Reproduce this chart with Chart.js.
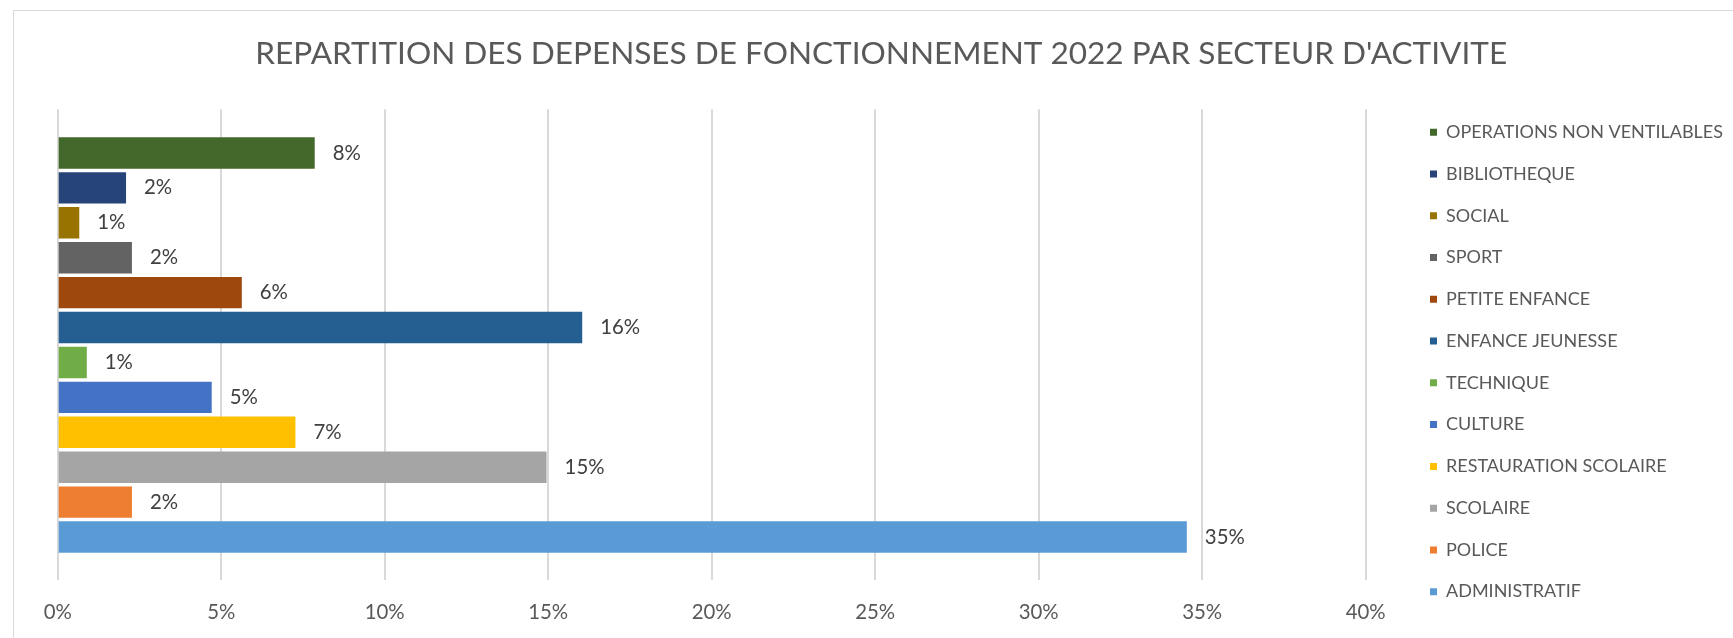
<!DOCTYPE html>
<html>
<head>
<meta charset="utf-8">
<script src="https://cdn.jsdelivr.net/npm/chart.js@4.4.1/dist/chart.umd.min.js"></script>
<style>
  html, body { margin: 0; padding: 0; background: #ffffff; overflow: hidden; }
  #frame { position: absolute; left: 13px; top: 10px; width: 1800px; height: 700px; border: 1px solid #d9d9d9; }
  #wrap { position: absolute; left: 0; top: 0; width: 1733px; height: 638px; }
</style>
</head>
<body>
<div id="frame"></div>
<div id="wrap"><canvas id="c" width="1733" height="638"></canvas></div>
<script>
// ---------- DATA ----------
const chartTitle = "REPARTITION DES DEPENSES DE FONCTIONNEMENT 2022 PAR SECTEUR D'ACTIVITE";
const categories = [
  "OPERATIONS NON VENTILABLES",
  "BIBLIOTHEQUE",
  "SOCIAL",
  "SPORT",
  "PETITE ENFANCE",
  "ENFANCE JEUNESSE",
  "TECHNIQUE",
  "CULTURE",
  "RESTAURATION SCOLAIRE",
  "SCOLAIRE",
  "POLICE",
  "ADMINISTRATIF"
];
const values = [7.86, 2.09, 0.66, 2.27, 5.63, 16.04, 0.89, 4.71, 7.27, 14.95, 2.27, 34.53];
const colors = [
  "#43682B", "#264478", "#997300", "#636363", "#9E480E", "#255E91",
  "#70AD47", "#4472C4", "#FFC000", "#A5A5A5", "#ED7D31", "#5B9BD5"
];
const xTickValues = [0, 5, 10, 15, 20, 25, 30, 35, 40];
const xTickLabels = ["0%", "5%", "10%", "15%", "20%", "25%", "30%", "35%", "40%"];

// ---------- LAYOUT / STYLE ----------
const FONT = "Lato";
const W = 1733, H = 638;
const mctx = document.createElement("canvas").getContext("2d");
function fitSize(text, target) {
  mctx.font = "100px " + FONT;
  return 100 * target / mctx.measureText(text).width;
}
const titleSize = fitSize(chartTitle, 1252);
const legendSize = fitSize("OPERATIONS NON VENTILABLES", 277);
const tickSize = fitSize("40%", 40);

const plotLeft = 57.7, plotRight = 1365.7;
const plotTop = 135.5, plotBottom = 554.5;
const gridTop = 109.3, gridBottom = 580;
const titleCenterX = 881.2, titleCenterY = 54.2;
const legendPitch = 41.76, legendBoxX = 1430, legendFirstY = 132.3;

const lp = legendPitch - legendSize;
mctx.font = legendSize + "px " + FONT;
const maxText = Math.max(...categories.map(c => mctx.measureText(c).width));
const legendW = lp + 7 + legendSize / 2 + maxText + 10;
const legendLeft = legendBoxX - lp;
const padR = W - legendLeft - legendW;
const padL = 2 * titleCenterX - W + padR;
const yAxisW = plotLeft - padL;
const rightGap = legendLeft - plotRight;
const colHeight = categories.length * legendPitch;
const padB = H - (legendFirstY - legendSize / 2 + colHeight);
const xAxisH = H - padB - plotBottom;
const titleLH = titleSize * 1.2;
const tickLH = tickSize * 1.2;
const tickPad = (612.7 - plotBottom) - (gridBottom - plotBottom) - tickLH / 2;

const datasets = categories.map((name, i) => ({
  label: name,
  data: categories.map((_, j) => (j === i ? values[i] : null)),
  backgroundColor: colors[i],
  borderWidth: 0,
  categoryPercentage: 1,
  barPercentage: 0.9,
  skipNull: true
}));

const dataLabels = {
  id: "dataLabels",
  afterDatasetsDraw(chart) {
    const ctx = chart.ctx;
    ctx.save();
    ctx.font = tickSize + "px " + FONT;
    ctx.fillStyle = "#404040";
    ctx.textAlign = "left";
    ctx.textBaseline = "middle";
    chart.data.datasets.forEach((ds, i) => {
      const meta = chart.getDatasetMeta(i);
      meta.data.forEach((el, j) => {
        const v = ds.data[j];
        if (v === null || v === undefined) return;
        ctx.fillText(Math.round(v) + "%", el.x + 18, el.y);
      });
    });
    ctx.restore();
  }
};

new Chart(document.getElementById("c"), {
  type: "bar",
  data: { labels: categories, datasets: datasets },
  options: {
    responsive: false,
    animation: false,
    indexAxis: "y",
    layout: { padding: { left: padL, right: padR, top: 0, bottom: padB } },
    scales: {
      x: {
        type: "linear",
        position: "bottom",
        min: 0, max: 40,
        afterBuildTicks(s) { s.ticks = xTickValues.map(v => ({ value: v })); },
        ticks: {
          callback: (v) => xTickLabels[xTickValues.indexOf(v)],
          color: "#595959",
          font: { family: FONT, size: tickSize },
          padding: tickPad,
          maxRotation: 0
        },
        grid: { color: "#d9d9d9", lineWidth: 2, tickLength: gridBottom - plotBottom, drawTicks: true },
        border: { display: false },
        afterFit(s) { s.height = xAxisH; }
      },
      x2: {
        type: "linear",
        position: "top",
        axis: "x",
        min: 0, max: 40,
        afterBuildTicks(s) { s.ticks = xTickValues.map(v => ({ value: v })); },
        ticks: { display: false },
        grid: { color: "#d9d9d9", lineWidth: 2, tickLength: plotTop - gridTop, drawTicks: true },
        border: { display: false },
        afterFit(s) { s.height = plotTop - gridTop; }
      },
      y: {
        type: "category",
        position: "left",
        ticks: { display: false },
        grid: { display: false, drawTicks: false },
        border: { display: false },
        afterFit(s) { s.width = yAxisW; }
      },
      yR: {
        type: "linear",
        position: "right",
        axis: "y",
        ticks: { display: false },
        grid: { display: false, drawTicks: false },
        border: { display: false },
        afterFit(s) { s.width = rightGap; }
      }
    },
    plugins: {
      title: {
        display: true,
        text: chartTitle,
        color: "#595959",
        font: { family: FONT, size: titleSize, weight: "normal" },
        padding: { top: titleCenterY - titleLH / 2, bottom: gridTop - titleCenterY - titleLH / 2 }
      },
      legend: {
        display: true,
        position: "right",
        align: "end",
        maxWidth: 600,
        labels: {
          boxWidth: 7,
          boxHeight: 7,
          padding: lp,
          color: "#595959",
          font: { family: FONT, size: legendSize }
        }
      },
      tooltip: { enabled: false }
    }
  },
  plugins: [dataLabels]
});
</script>
</body>
</html>
